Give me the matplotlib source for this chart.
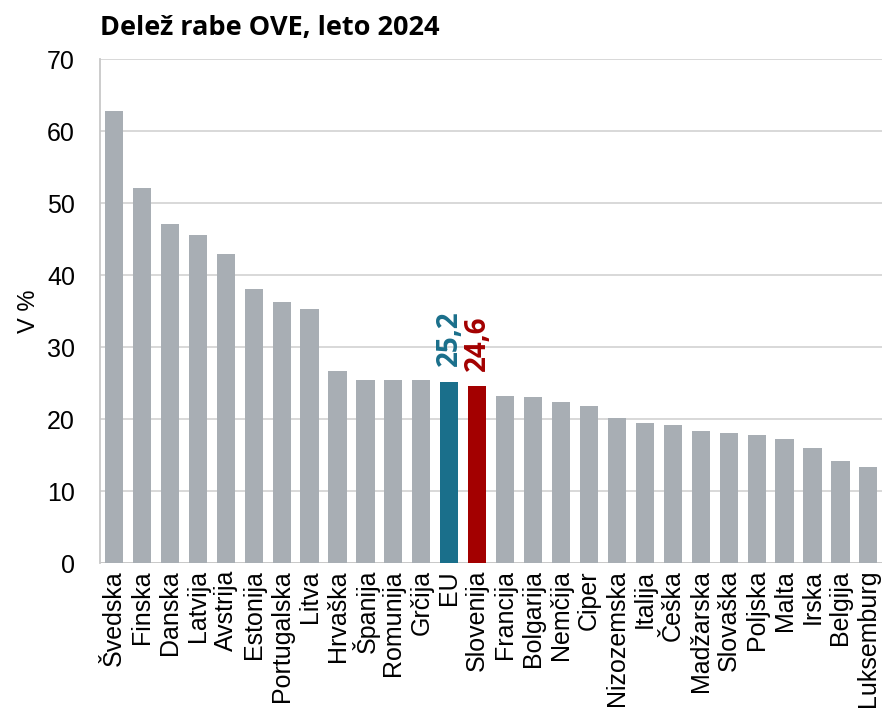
import matplotlib
matplotlib.use("Agg")
import matplotlib.pyplot as plt

plt.rcParams['font.family'] = ['Liberation Sans', 'DejaVu Sans']

countries = ["Švedska", "Finska", "Danska", "Latvija", "Avstrija", "Estonija",
             "Portugalska", "Litva", "Hrvaška", "Španija", "Romunija", "Grčija",
             "EU", "Slovenija", "Francija", "Bolgarija", "Nemčija", "Ciper",
             "Nizozemska", "Italija", "Češka", "Madžarska", "Slovaška", "Poljska",
             "Malta", "Irska", "Belgija", "Luksemburg"]
values = [62.8, 52.1, 47.1, 45.6, 42.9, 38.1, 36.3, 35.3, 26.7, 25.4, 25.4, 25.4,
          25.2, 24.6, 23.2, 23.1, 22.4, 21.8, 20.1, 19.4, 19.2, 18.3, 18.1, 17.8,
          17.2, 16.0, 14.2, 13.3]
highlight = {"EU": ("#1a6f8b", "25,2"), "Slovenija": ("#a30000", "24,6")}
yticks = [0, 10, 20, 30, 40, 50, 60, 70]

fig = plt.figure(figsize=(8.85, 7.25), dpi=100)
ax = fig.add_axes([0.113, 0.2234, 0.884, 0.6952])

x = list(range(len(countries)))
colors = [highlight[c][0] if c in highlight else "#a8aeb4" for c in countries]
ax.bar(x, values, width=0.65, color=colors, zorder=3)

for i, c in enumerate(countries):
    if c in highlight:
        ax.text(i, values[i] + 2.1, highlight[c][1], rotation=90, ha="center",
                va="bottom", color=highlight[c][0], fontsize=20, fontweight="bold",
                family=["Open Sans", "DejaVu Sans"])

ax.set_xlim(-0.5, len(countries) - 0.5)
ax.set_ylim(0, 70)
ax.set_yticks(yticks)
ax.set_yticklabels([str(t) for t in yticks], fontsize=18)
ax.set_xticks(x)
ax.set_xticklabels(countries, rotation=90, fontsize=18)
ax.tick_params(axis="x", length=0, pad=5)
ax.tick_params(axis="y", length=0, pad=18)
ax.yaxis.grid(True, color="#d6d6d6", linewidth=1.3, zorder=0)
for s in ["right", "top", "bottom"]:
    ax.spines[s].set_visible(False)
ax.spines["left"].set_color("#c8c8c8")
ax.spines["left"].set_linewidth(1.3)
ax.axhline(0, color="#c8c8c8", linewidth=1.3, zorder=2)

ax.set_ylabel("V %", fontsize=17, labelpad=5)
fig.text(0.113, 0.962, "Delež rabe OVE, leto 2024", fontsize=19.5, fontweight="bold",
         ha="left", va="center", family=["Open Sans", "DejaVu Sans"])

fig.savefig("out.png", dpi=100)
